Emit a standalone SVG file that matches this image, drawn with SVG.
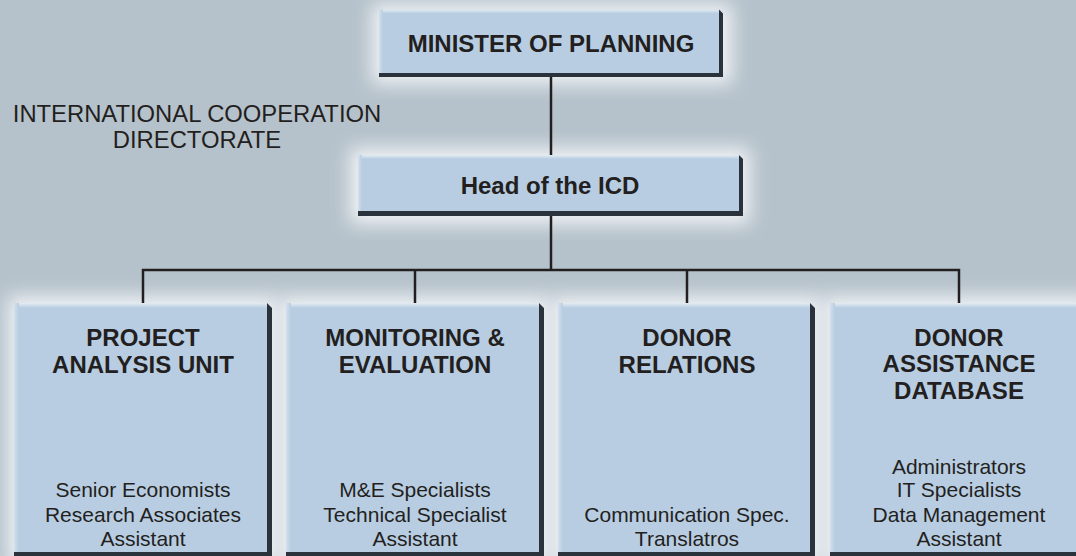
<svg xmlns="http://www.w3.org/2000/svg" width="1076" height="556" viewBox="0 0 1076 556">
<defs>
<filter id="glow" x="-20%" y="-20%" width="140%" height="140%">
<feGaussianBlur stdDeviation="9"/>
</filter>
<linearGradient id="topHi" x1="0" y1="0" x2="0" y2="1">
<stop offset="0" stop-color="#e4ecf3"/>
<stop offset="1" stop-color="#b8cde2"/>
</linearGradient>
<linearGradient id="leftHi" x1="0" y1="0" x2="1" y2="0">
<stop offset="0" stop-color="#d3e0ec"/>
<stop offset="1" stop-color="#b8cde2"/>
</linearGradient>
</defs>
<style>
.bg{fill:#b6c2cb}
.glow{fill:#f6f8fa;opacity:0.9;filter:url(#glow)}
.edge{fill:#2a323c}
.face{fill:#b8cde2}
.th{fill:url(#topHi)}
.lh{fill:url(#leftHi)}
.conn{stroke:#231f20;stroke-width:2.5;fill:none}
text{font-family:"Liberation Sans",Arial,sans-serif;fill:#231f20;text-anchor:middle}
.b{font-weight:bold;font-size:24px}
.r{font-size:21px}
.t{font-size:23.8px}
</style>
<rect class="bg" x="0" y="0" width="1076" height="556"/>
<g id="glows">
<rect class="glow" x="372" y="4" width="360" height="80"/>
<rect class="glow" x="350" y="148" width="400" height="76"/>
<rect class="glow" x="8" y="296" width="270" height="270"/>
<rect class="glow" x="280" y="296" width="270" height="270"/>
<rect class="glow" x="552" y="296" width="270" height="270"/>
<rect class="glow" x="824" y="296" width="270" height="270"/>
</g>
<g id="connectors">
<line class="conn" x1="551" y1="76" x2="551" y2="156"/>
<line class="conn" x1="551" y1="214" x2="551" y2="270"/>
<polyline class="conn" points="143,304 143,270 959,270 959,304"/>
<line class="conn" x1="415" y1="270" x2="415" y2="304"/>
<line class="conn" x1="687" y1="270" x2="687" y2="304"/>
</g>
<g id="directorate-label">
<text class="t" x="197" y="122">INTERNATIONAL COOPERATION</text>
<text class="t" x="197" y="148">DIRECTORATE</text>
</g>
<g id="minister">
<path class="edge" d="M719,9.5 L723,13.5 L723,77 L379,77 L379,73 L719,73 Z"/>
<rect class="face" x="379" y="9.5" width="340" height="63.5"/>
<rect class="th" x="379" y="9.5" width="340" height="4"/>
<rect class="lh" x="379" y="9.5" width="4" height="63.5"/>
<text class="b" x="551" y="52">MINISTER OF PLANNING</text>
</g>
<g id="head">
<path class="edge" d="M739,155 L743,159 L743,216 L358,216 L358,211 L739,211 Z"/>
<rect class="face" x="358" y="155" width="381" height="56"/>
<rect class="th" x="358" y="155" width="381" height="4"/>
<rect class="lh" x="358" y="155" width="4" height="56"/>
<text class="b" x="550" y="194">Head of the ICD</text>
</g>
<g id="unit-project">
<path class="edge" d="M267,303 L272,308 L272,556 L14,556 L14,552 L267,552 Z"/>
<rect class="face" x="14" y="303" width="253" height="249"/>
<rect class="th" x="14" y="303" width="253" height="5"/>
<rect class="lh" x="14" y="303" width="5" height="249"/>
<text class="b" x="143" y="346">PROJECT</text>
<text class="b" x="143" y="373">ANALYSIS UNIT</text>
<text class="r" x="143" y="497">Senior Economists</text>
<text class="r" x="143" y="522">Research Associates</text>
<text class="r" x="143" y="546">Assistant</text>
</g>
<g id="unit-me">
<path class="edge" d="M539,303 L544,308 L544,556 L286,556 L286,552 L539,552 Z"/>
<rect class="face" x="286" y="303" width="253" height="249"/>
<rect class="th" x="286" y="303" width="253" height="5"/>
<rect class="lh" x="286" y="303" width="5" height="249"/>
<text class="b" x="415" y="346">MONITORING &amp;</text>
<text class="b" x="415" y="373">EVALUATION</text>
<text class="r" x="415" y="497">M&amp;E Specialists</text>
<text class="r" x="415" y="522">Technical Specialist</text>
<text class="r" x="415" y="546">Assistant</text>
</g>
<g id="unit-donor-relations">
<path class="edge" d="M810,303 L815,308 L815,556 L558,556 L558,552 L810,552 Z"/>
<rect class="face" x="558" y="303" width="252" height="249"/>
<rect class="th" x="558" y="303" width="252" height="5"/>
<rect class="lh" x="558" y="303" width="5" height="249"/>
<text class="b" x="687" y="346">DONOR</text>
<text class="b" x="687" y="373">RELATIONS</text>
<text class="r" x="687" y="522">Communication Spec.</text>
<text class="r" x="687" y="546">Translatros</text>
</g>
<g id="unit-database">
<path class="edge" d="M1083,303 L1088,308 L1088,556 L830,556 L830,552 L1083,552 Z"/>
<rect class="face" x="830" y="303" width="253" height="249"/>
<rect class="th" x="830" y="303" width="253" height="5"/>
<rect class="lh" x="830" y="303" width="5" height="249"/>
<text class="b" x="959" y="346">DONOR</text>
<text class="b" x="959" y="372">ASSISTANCE</text>
<text class="b" x="959" y="399">DATABASE</text>
<text class="r" x="959" y="474">Administrators</text>
<text class="r" x="959" y="497">IT Specialists</text>
<text class="r" x="959" y="522">Data Management</text>
<text class="r" x="959" y="546">Assistant</text>
</g>
</svg>
